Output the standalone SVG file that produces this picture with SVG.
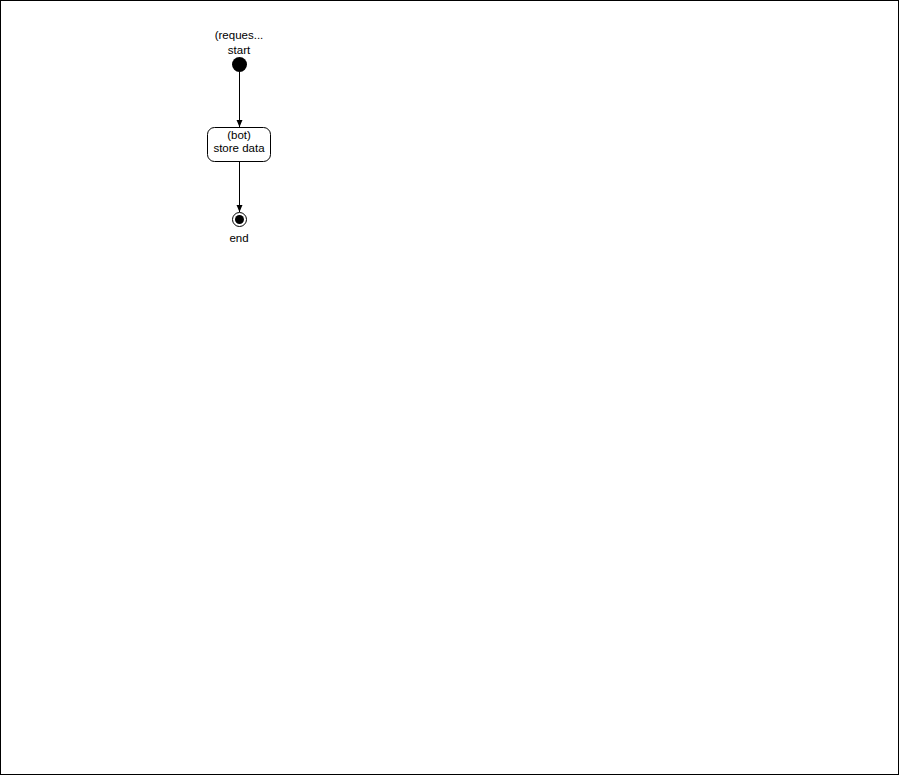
<svg xmlns="http://www.w3.org/2000/svg" width="899" height="775" viewBox="0 0 899 775">
<style>
text{font-family:"Liberation Sans",Arial,sans-serif;font-size:11.5px;fill:#000;text-anchor:middle}
.ln{stroke:#000;stroke-width:1;fill:none}
</style>
<defs>
<marker id="ah" markerWidth="8" markerHeight="8" refX="7" refY="4" orient="auto" markerUnits="userSpaceOnUse">
<path d="M0,1 L7,4 L0,7 z" fill="#000"/>
</marker>
</defs>
<rect x="0.5" y="0.5" width="898" height="774" fill="#fff" stroke="#000"/>
<g id="connectors">
<line class="ln" x1="239.5" y1="72" x2="239.5" y2="127" marker-end="url(#ah)"/>
<line class="ln" x1="239.5" y1="162" x2="239.5" y2="212" marker-end="url(#ah)"/>
</g>
<g id="start">
<text x="239" y="39">(reques...</text>
<text x="239" y="54">start</text>
<circle cx="239.5" cy="64.5" r="7.5" fill="#000"/>
</g>
<g id="store">
<rect x="207.5" y="127.5" width="63" height="34" rx="7" ry="7" fill="#fff" stroke="#000"/>
<text x="239" y="139">(bot)</text>
<text x="239" y="152">store data</text>
</g>
<g id="end">
<circle cx="239.5" cy="219.5" r="7" fill="#fff" stroke="#000"/>
<circle cx="239.5" cy="219.5" r="4.5" fill="#000"/>
<text x="239" y="242">end</text>
</g>
</svg>
